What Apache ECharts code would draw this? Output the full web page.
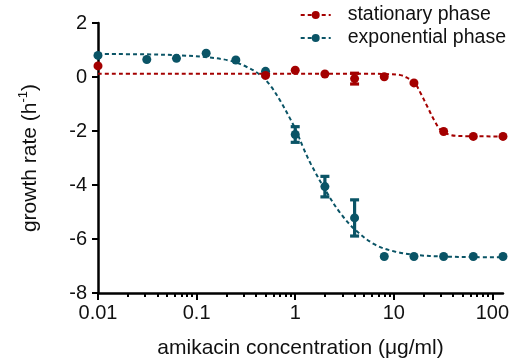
<!DOCTYPE html>
<html>
<head>
<meta charset="utf-8">
<script src="https://cdn.jsdelivr.net/npm/echarts@6/dist/echarts.min.js"></script>
<style>
  html, body { margin: 0; padding: 0; background: #fff; }
  #chart { width: 511px; height: 361px; }
</style>
</head>
<body>
<div id="chart"></div>
<script>
// Growth rate vs. amikacin concentration (µg/ml); 0.01 stands in for the untreated control.
const expConc   = [0.01, 0.03125, 0.0625, 0.125, 0.25, 0.5, 1, 2, 4, 8, 16, 32, 64, 128];
const expRate   = [0.80, 0.65, 0.69, 0.88, 0.63, 0.21, -2.13, -4.06, -5.22, -6.65, -6.65, -6.65, -6.65, -6.65];
const expErr    = [0, 0, 0, 0, 0, 0, 0.29, 0.38, 0.67, 0, 0, 0, 0, 0];

const statConc  = [0.01, 0.5, 1, 2, 4, 8, 16, 32, 64, 128];
const statRate  = [0.41, 0.06, 0.25, 0.11, -0.06, 0.01, -0.22, -2.02, -2.20, -2.20];
const statErr   = [0, 0, 0, 0, 0.20, 0, 0, 0, 0, 0];

// Dose-response fit curves, sampled along each curve
const expFitConc  = [0.01, 0.03, 0.07, 0.13, 0.22, 0.32, 0.44, 0.56, 0.71, 0.89, 1.04, 1.2, 1.43, 2.03, 2.88, 4.09, 6.53, 10.4, 16.6, 32, 64, 128];
const expFitRate  = [0.85, 0.84, 0.80, 0.73, 0.60, 0.38, 0.08, -0.32, -0.90, -1.55, -2.05, -2.6, -3.2, -4.2, -5.05, -5.67, -6.22, -6.47, -6.59, -6.65, -6.67, -6.68];
const statFitConc = [0.01, 1, 5, 8, 11.7, 14, 16, 18.7, 21.9, 25.6, 29.9, 37.8, 50, 128];
const statFitRate = [0.12, 0.12, 0.12, 0.11, 0.07, -0.05, -0.17, -0.60, -1.10, -1.59, -1.96, -2.15, -2.19, -2.20];

const xMajorTicks = [0.01, 0.1, 1, 10, 100];
const yTicks = [-8, -6, -4, -2, 0, 2];

const RED = '#a40000';
const TEAL = '#0a5466';
const FONT = 'Liberation Sans, Arial, sans-serif';

const xMinorTicks = [];
[0.01, 0.1, 1, 10].forEach(function (d) {
  for (let k = 2; k <= 9; k++) xMinorTicks.push(Number((k * d).toPrecision(6)));
});

function zip(a, b, c) {
  return a.map(function (v, i) { return c ? [v, b[i], c[i]] : [v, b[i]]; });
}

function errorBar(color) {
  return function (params, api) {
    const x = api.value(0), y = api.value(1), e = api.value(2);
    if (!e) return null;
    const top = api.coord([x, y + e]);
    const bot = api.coord([x, y - e]);
    const hw = 4.5;
    const style = { stroke: color, lineWidth: 3.2, fill: null };
    return {
      type: 'group',
      children: [
        { type: 'line', shape: { x1: top[0], y1: top[1], x2: bot[0], y2: bot[1] }, style: style },
        { type: 'line', shape: { x1: top[0] - hw, y1: top[1], x2: top[0] + hw, y2: top[1] }, style: style },
        { type: 'line', shape: { x1: bot[0] - hw, y1: bot[1], x2: bot[0] + hw, y2: bot[1] }, style: style }
      ]
    };
  };
}

function fitSeries(name, color, data) {
  return {
    name: name, type: 'line', data: data, smooth: 0.35,
    symbol: 'circle', symbolSize: 9, showSymbol: false,
    itemStyle: { color: color },
    lineStyle: { color: color, width: 2, type: [4, 3] },
    silent: true, z: 2
  };
}

const chart = echarts.init(document.getElementById('chart'), null, { renderer: 'canvas' });
chart.setOption({
  animation: false,
  backgroundColor: '#fff',
  textStyle: { fontFamily: FONT },
  grid: { left: 98, right: 8, top: 23, bottom: 68, containLabel: false, outerBoundsMode: 'none' },
  legend: {
    data: ['stationary phase', 'exponential phase'],
    orient: 'vertical', right: 0, top: 0, align: 'left',
    itemWidth: 30, itemHeight: 10, itemGap: 3,
    textStyle: { fontSize: 19.5, color: '#111', fontFamily: FONT, padding: [0, 0, 0, 12] }
  },
  xAxis: [{
    type: 'log', logBase: 10, min: 0.01, max: 128,
    name: 'amikacin concentration (\u03bcg/ml)', nameLocation: 'middle', nameGap: 45,
    nameTextStyle: { fontSize: 21, color: '#111', fontFamily: FONT },
    axisLine: { show: true, onZero: false, lineStyle: { color: '#000', width: 2.5 } },
    axisTick: { show: true, length: 7, lineStyle: { color: '#000', width: 2 }, customValues: xMajorTicks },
    axisLabel: { fontSize: 20, color: '#111', margin: 10, customValues: xMajorTicks,
      formatter: function (v) { return String(Number(v.toPrecision(6))); } },
    splitLine: { show: false }
  }, {
    type: 'log', logBase: 10, min: 0.01, max: 128, position: 'bottom',
    axisLine: { show: false, onZero: false },
    axisTick: { show: true, length: 4, lineStyle: { color: '#000', width: 2 }, customValues: xMinorTicks },
    axisLabel: { show: false },
    splitLine: { show: false }
  }],
  yAxis: {
    type: 'value', min: -8, max: 2, interval: 2,
    name: '{t|growth rate (h}{s|-1}{t|)}', nameLocation: 'middle', nameGap: 55, nameRotate: 90,
    nameTextStyle: {
      color: '#111', fontFamily: FONT,
      rich: {
        t: { fontSize: 21, color: '#111', fontFamily: FONT, lineHeight: 26 },
        s: { fontSize: 13, color: '#111', fontFamily: FONT, verticalAlign: 'top', lineHeight: 14 }
      }
    },
    axisLine: { show: true, onZero: false, lineStyle: { color: '#000', width: 2.5 } },
    axisTick: { show: true, length: 6, lineStyle: { color: '#000', width: 2 } },
    axisLabel: { fontSize: 20, color: '#111', margin: 11,
      customValues: yTicks },
    splitLine: { show: false }
  },
  series: [
    fitSeries('exponential phase', TEAL, zip(expFitConc, expFitRate)),
    {
      name: 'exponential phase', type: 'custom', renderItem: errorBar(TEAL),
      data: zip(expConc, expRate, expErr), encode: { x: 0, y: 1 }, z: 3, silent: true
    },
    {
      name: 'exponential phase', type: 'scatter', data: zip(expConc, expRate),
      symbol: 'circle', symbolSize: 9, itemStyle: { color: TEAL, opacity: 1 }, z: 4
    },
    fitSeries('stationary phase', RED, zip(statFitConc, statFitRate)),
    {
      name: 'stationary phase', type: 'custom', renderItem: errorBar(RED),
      data: zip(statConc, statRate, statErr), encode: { x: 0, y: 1 }, z: 3, silent: true
    },
    {
      name: 'stationary phase', type: 'scatter', data: zip(statConc, statRate),
      symbol: 'circle', symbolSize: 9, itemStyle: { color: RED, opacity: 1 }, z: 4
    }
  ]
});
</script>
</body>
</html>
